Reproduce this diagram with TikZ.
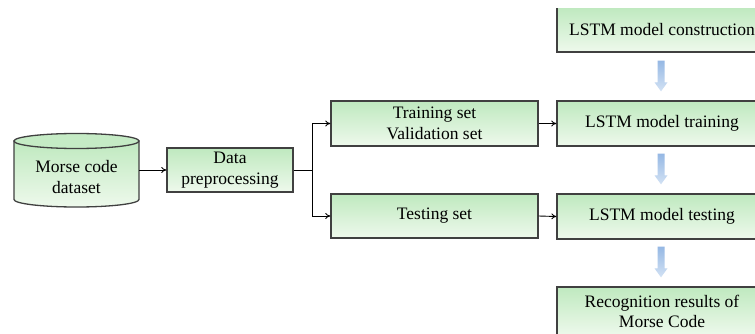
\documentclass[tikz,border=0pt]{standalone}
\usepackage{fontspec}
\setmainfont{Liberation Serif}
\usetikzlibrary{calc,arrows.meta}
\definecolor{gtop}{HTML}{BFE9BF}
\definecolor{gbot}{HTML}{EEF9EC}
\definecolor{bord}{HTML}{404040}
\definecolor{btop}{HTML}{95B8E4}
\definecolor{bbot}{HTML}{D3E2F4}
\tikzset{
  txt/.style={font=\fontsize{17.5}{20.5}\selectfont},
  gbox/.style={draw=bord, line width=1.3pt, top color=gtop, bottom color=gbot,
    rectangle, inner sep=0pt, align=center, txt},
  conn/.style={draw=black, line width=0.9pt, -{To[length=5pt,width=6pt]}},
  plain/.style={draw=black, line width=0.9pt},
  barrow/.style={top color=btop, bottom color=bbot, draw=none},
}
\newcommand{\bluearrow}[2]{%
  \path let \p1=(#1), \p2=(#2) in
    [barrow] (\x1-3.5pt,\y1) -- (\x1-3.5pt,\y2+9pt) -- (\x1-6.5pt,\y2+9pt) -- (\x1,\y2)
    -- (\x1+6.5pt,\y2+9pt) -- (\x1+3.5pt,\y2+9pt) -- (\x1+3.5pt,\y1) -- cycle;}
\begin{document}
\begin{tikzpicture}[x=1pt,y=-1pt]
\useasboundingbox[fill=white] (0,0) rectangle (755,334);
\clip (0,8.6) rectangle (755,334);
% cylinder
\path[top color=gtop, bottom color=gbot, draw=bord, line width=1.3pt]
  (14,141) -- (14,199.5) arc[start angle=180, end angle=0, x radius=62.5, y radius=7.5] -- (139,141) -- cycle;
\draw[bord, line width=1.3pt, fill=gtop!90!white] (76.5,141) ellipse[x radius=62.5, y radius=7.5];
\node[align=center, txt] (ds) at (76.5,177) {Morse code\\dataset};
\coordinate (dsE) at (139,170);
% boxes
\node[gbox, minimum width=126pt, minimum height=44pt] (dp) at (230,170) {Data\\preprocessing};
\node[gbox, minimum width=207pt, minimum height=45pt] (tr) at (434.5,123.5) {Training set\\Validation set};
\node[gbox, minimum width=207pt, minimum height=44pt] (te) at (434.5,216) {Testing set};
\node[gbox, minimum width=210pt, minimum height=45pt] (lc) at (662,29.5) {LSTM model construction};
\node[gbox, minimum width=210pt, minimum height=45pt] (lt) at (662,123.5) {LSTM model training};
\node[gbox, minimum width=210pt, minimum height=45pt] (ls) at (662,216.5) {LSTM model testing};
\node[gbox, minimum width=210pt, minimum height=49pt] (rr) at (662,311.5) {Recognition results of\\Morse Code};
% connectors
\draw[conn] (dsE) -- (dp.west);
\coordinate (br) at (312,170);
\draw[plain] (dp.east) -- (br);
\draw[conn] (br) |- (tr.west);
\draw[conn] (br) |- (te.west);
\draw[conn] (tr.east) -- (lt.west);
\draw[conn] (te.east) -- (ls.west);
% blue arrows
\coordinate (a1) at ($(lc.south)+(-1,8)$);
\coordinate (b1) at ($(lt.north)+(-1,-9)$);
\coordinate (a2) at ($(lt.south)+(-1,7)$);
\coordinate (b2) at ($(ls.north)+(-1,-9)$);
\coordinate (a3) at ($(ls.south)+(-1,7)$);
\coordinate (b3) at ($(rr.north)+(-1,-9)$);
\bluearrow{a1}{b1}
\bluearrow{a2}{b2}
\bluearrow{a3}{b3}
\end{tikzpicture}
\end{document}
